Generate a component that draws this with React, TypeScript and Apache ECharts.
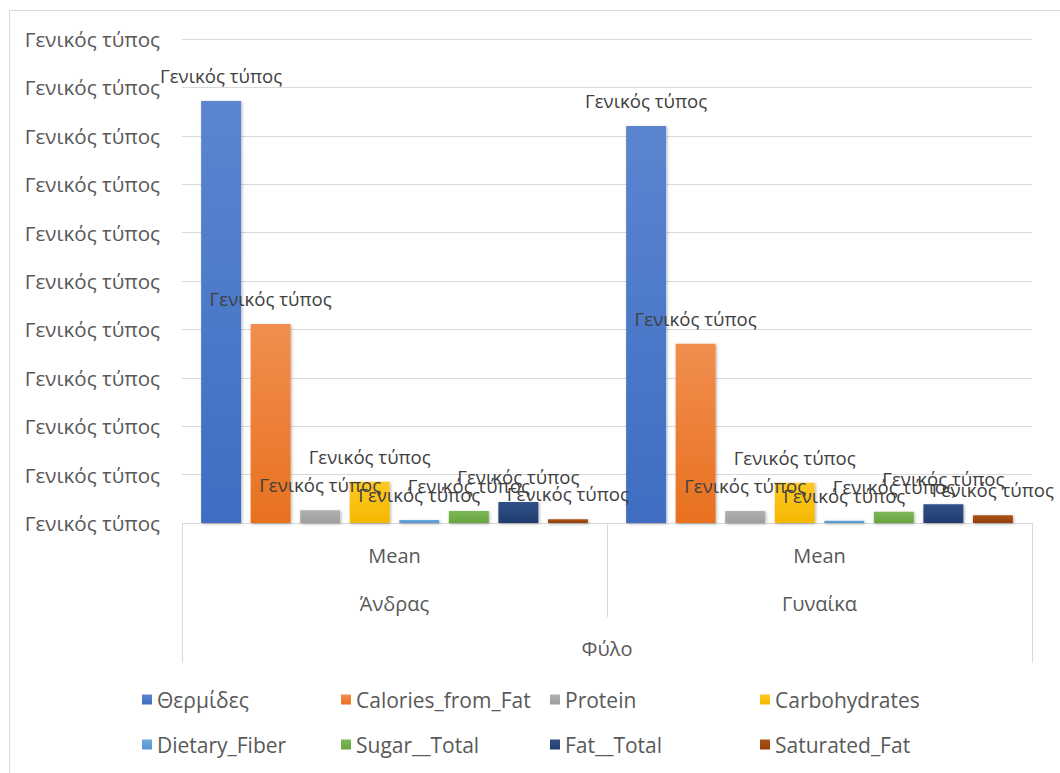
import React, { useEffect, useRef } from "react";
import * as echarts from "echarts";

// Categories (second level) and the outer grouping labels of the x axis
const genders = ["Άνδρας", "Γυναίκα"];
const statLabel = "Mean";
const groupLabel = "Φύλο";

// Series names, in drawing order
const seriesNames = [
  "Θερμίδες",
  "Calories_from_Fat",
  "Protein",
  "Carbohydrates",
  "Dietary_Fiber",
  "Sugar__Total",
  "Fat__Total",
  "Saturated_Fat",
];

// Mean values per gender (Άνδρας, Γυναίκα)
const thermides = [2180, 2050];
const caloriesFromFat = [1028, 926];
const protein = [66, 62];
const carbohydrates = [213, 208];
const dietaryFiber = [15, 12];
const sugarTotal = [62, 58];
const fatTotal = [108, 97];
const saturatedFat = [19, 40];

// Value axis range and the text shown for every tick and data label
const yMin = 0;
const yMax = 2500;
const yInterval = 250;
const formatText = "Γενικός τύπος";

// Fill colours: [top of gradient, bottom of gradient]
const palette: [string, string][] = [
  ["#5b85d0", "#3f6dc2"],
  ["#f18e4f", "#e8711f"],
  ["#b0b0b0", "#9f9f9f"],
  ["#ffc824", "#f4b800"],
  ["#6ea8dc", "#5494d2"],
  ["#7cb857", "#68a53f"],
  ["#2f5088", "#213d6e"],
  ["#a9531a", "#963f08"],
];

const seriesValues = [
  thermides,
  caloriesFromFat,
  protein,
  carbohydrates,
  dietaryFiber,
  sugarTotal,
  fatTotal,
  saturatedFat,
];

const FONT = "'Open Sans', 'Noto Sans', sans-serif";

export default function App() {
  const ref = useRef<HTMLDivElement>(null);

  useEffect(() => {
    document.body.style.margin = "0";
    if (!ref.current) return;
    const chart = echarts.init(ref.current, undefined, { renderer: "svg" });

    const series = seriesNames.map((name, i) => ({
      name,
      type: "bar",
      data: seriesValues[i],
      barGap: "24%",
      barCategoryGap: "9%",
      itemStyle: {
        color: {
          type: "linear",
          x: 0,
          y: 0,
          x2: 0,
          y2: 1,
          colorStops: [
            { offset: 0, color: palette[i][0] },
            { offset: 1, color: palette[i][1] },
          ],
        },
        shadowBlur: 3,
        shadowColor: "rgba(0,0,0,0.3)",
        shadowOffsetX: 1,
        shadowOffsetY: 1,
      },
      label: {
        show: true,
        position: "top",
        distance: 16,
        formatter: () => formatText,
        color: "#404040",
        fontFamily: FONT,
        fontSize: 18.6,
      },
    }));

    // One legend per column, each holding two rows
    const legendCols = [137, 336, 545, 755];
    const legends = legendCols.map((left, c) => ({
      orient: "vertical",
      left,
      top: 684,
      data: [seriesNames[c], seriesNames[c + 4]],
      icon: "rect",
      itemWidth: 10,
      itemHeight: 10,
      itemGap: 24,
      selectedMode: false,
      textStyle: {
        color: "#595959",
        fontFamily: FONT,
        fontSize: 21,
        lineHeight: 21,
      },
    }));

    chart.setOption({
      animation: false,
      backgroundColor: "#ffffff",
      textStyle: { fontFamily: FONT },
      grid: { left: 182, right: 28, top: 39, bottom: 250, containLabel: false },
      legend: legends,
      xAxis: [
        {
          type: "category",
          data: genders,
          position: "bottom",
          axisLine: { show: true, lineStyle: { color: "#d9d9d9", width: 1 } },
          axisTick: { show: true, length: 94, lineStyle: { color: "#d9d9d9" } },
          axisLabel: {
            margin: 8,
            formatter: (v: string) => `{m|${statLabel}}\n{g|${v}}`,
            rich: {
              m: { fontSize: 20, lineHeight: 48, color: "#595959", fontFamily: FONT },
              g: { fontSize: 20, lineHeight: 48, color: "#595959", fontFamily: FONT },
            },
          },
          splitLine: { show: false },
        },
        {
          type: "category",
          data: [groupLabel],
          position: "bottom",
          axisLine: { show: false },
          axisTick: { show: true, length: 140, lineStyle: { color: "#d9d9d9" } },
          axisLabel: {
            margin: 115,
            color: "#595959",
            fontSize: 20,
            lineHeight: 20,
            fontFamily: FONT,
          },
          splitLine: { show: false },
        },
      ],
      yAxis: {
        type: "value",
        min: yMin,
        max: yMax,
        interval: yInterval,
        axisLine: { show: false },
        axisTick: { show: false },
        axisLabel: {
          formatter: () => formatText,
          color: "#595959",
          fontSize: 20.6,
          margin: 22,
          fontFamily: FONT,
        },
        splitLine: { show: true, lineStyle: { color: "#d9d9d9", width: 1 } },
      },
      graphic: [
        {
          type: "rect",
          silent: true,
          shape: { x: 9.5, y: 10.5, width: 1100, height: 800 },
          style: { fill: "none", stroke: "#d9d9d9", lineWidth: 1 },
          z: -1,
        },
      ],
      series,
    });

    return () => chart.dispose();
  }, []);

  return <div ref={ref} style={{ width: 1060, height: 773 }} />;
}
